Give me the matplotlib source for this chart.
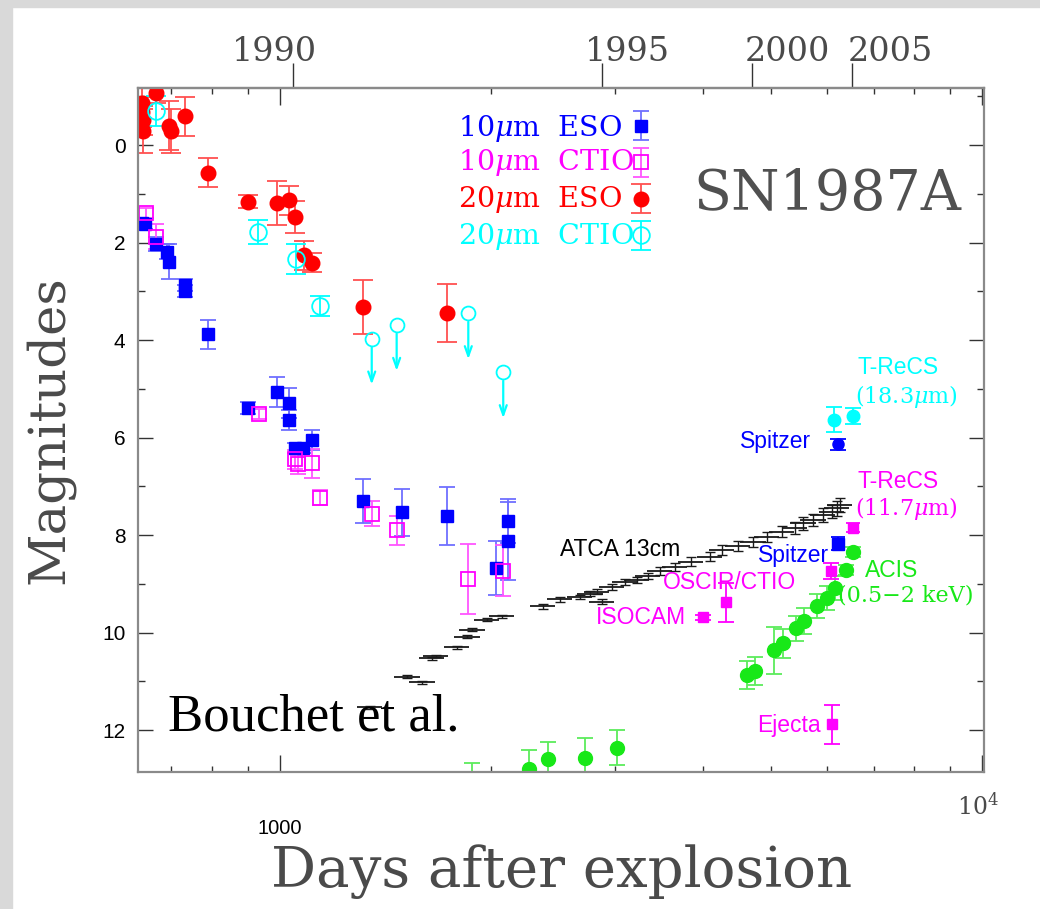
import datetime as dt
import numpy as np
import matplotlib
matplotlib.use("Agg")
import matplotlib.pyplot as plt
from matplotlib.patches import Rectangle
from matplotlib.ticker import FixedLocator, NullFormatter, NullLocator

# ---------------- data (days after explosion, magnitudes) ----------------
eso10_day = [636, 642, 666, 690, 696, 732, 732, 791, 901, 989, 1030, 1030, 1050, 1079, 1110,
             1314, 1493, 1730, 2114, 2114, 2028]
eso10_mag = [1.59, 1.62, 2.03, 2.19, 2.39, 2.87, 3.0, 3.88, 5.40, 5.06, 5.29, 5.64, 6.22, 6.22, 6.05,
             7.30, 7.53, 7.61, 7.71, 8.12, 8.68]
eso10_err = [0.1, 0.1, 0.15, 0.15, 0.35, 0.12, 0.12, 0.3, 0.12, 0.31, 0.3, 0.2, 0.1, 0.1, 0.2,
             0.46, 0.48, 0.6, 0.45, 0.8, 0.55]

ctio10_day = [645, 666, 934, 1050, 1060, 1112, 1140, 1351, 1466, 1854, 2079]
ctio10_mag = [1.40, 1.88, 5.52, 6.45, 6.55, 6.53, 7.23, 7.56, 7.90, 8.90, 8.73]
ctio10_err = [0.1, 0.26, 0.1, 0.2, 0.2, 0.3, 0.15, 0.25, 0.3, 0.72, 0.52]

eso20_day = [636, 636, 638, 639, 667, 696, 700, 732, 790, 900, 989, 1030, 1050, 1082, 1110, 1313, 1729]
eso20_mag = [-0.86, -0.68, -0.51, -0.29, -1.07, -0.40, -0.28, -0.59, 0.57, 1.16, 1.19, 1.13, 1.47,
             2.26, 2.41, 3.32, 3.45]
eso20_err = [0.3, 0.3, 0.3, 0.45, 0.2, 0.5, 0.45, 0.4, 0.3, 0.13, 0.45, 0.3, 0.33, 0.3, 0.2, 0.55, 0.6]

ctio20_day = [667, 931, 1053, 1140]
ctio20_mag = [-0.7, 1.78, 2.34, 3.30]
ctio20_err = [0.3, 0.25, 0.3, 0.2]
ctio20_lim_day = [1351, 1466, 1854, 2079]
ctio20_lim_mag = [3.97, 3.69, 3.45, 4.66]

trecs18_day = [6150, 6534]
trecs18_mag = [5.63, 5.56]
trecs18_err = [0.25, 0.17]

spitzer24_day = [6220]
spitzer24_mag = [6.14]
spitzer24_err = [0.12]

trecs11_day = [6534]
trecs11_mag = [7.85]
trecs11_err = [0.09]

spitzer8_day = [6220]
spitzer8_mag = [8.18]
spitzer8_err = [0.13]

oscir_day = [4313, 6084]
oscir_mag = [9.38, 8.74]
oscir_err = [0.4, 0.16]

isocam_day = [4004]
isocam_mag = [9.69]
isocam_err = [0.06]

ejecta_day = [6098]
ejecta_mag = [11.88]
ejecta_err = [0.4]

acis_day = [1874, 2262, 2409, 2717, 3021, 4625, 4744, 5053, 5194, 5425, 5576, 5807, 5999, 6166,
            6393, 6546]
acis_mag = [13.07, 12.79, 12.60, 12.57, 12.36, 10.87, 10.79, 10.36, 10.22, 9.91, 9.76, 9.45, 9.29,
            9.09, 8.72, 8.34]
acis_err = [0.4, 0.38, 0.35, 0.4, 0.36, 0.28, 0.28, 0.48, 0.3, 0.26, 0.26, 0.25, 0.25, 0.25, 0.1, 0.1]

atca_day = [1343, 1519, 1595, 1645, 1667, 1786, 1849, 1879, 1970, 2070, 2367, 2503, 2673, 2763,
            2826, 2872, 2968, 3097, 3222, 3340, 3474, 3649, 3846, 4093, 4257, 4486, 4713, 4934,
            5181, 5408, 5553, 5738, 5928, 6104, 6205, 6266]
atca_mag = [11.53, 10.91, 11.02, 10.53, 10.48, 10.30, 10.09, 9.94, 9.74, 9.67, 9.46, 9.32, 9.27,
            9.20, 9.16, 9.37, 9.06, 8.97, 8.92, 8.84, 8.73, 8.65, 8.55, 8.44, 8.31, 8.23, 8.14,
            8.04, 7.93, 7.86, 7.76, 7.69, 7.59, 7.52, 7.45, 7.38]
atca_err = [0.03, 0.03, 0.03, 0.03, 0.03, 0.03, 0.03, 0.03, 0.03, 0.03, 0.05, 0.05, 0.05, 0.05,
            0.05, 0.05, 0.06, 0.06, 0.07, 0.07, 0.08, 0.08, 0.09, 0.09, 0.1, 0.1, 0.11, 0.11,
            0.12, 0.12, 0.13, 0.13, 0.14, 0.14, 0.15, 0.15]

year_ticks = [1990, 1995, 2000, 2005]
year_label_day = [981, 3128, 5268, 7383]
explosion = dt.date(1987, 2, 23)

legend_labels = [r"10$\mu$m  ESO", r"10$\mu$m  CTIO", r"20$\mu$m  ESO", r"20$\mu$m  CTIO"]

# ---------------- style ----------------
BLUE, MAG, RED, CYAN, GREEN = "#0000ff", "#ff00ff", "#ff0000", "#00ffff", "#18e818"
TXT = "#4a4a4a"
plt.rcParams["font.family"] = ["DejaVu Serif"]
plt.rcParams["mathtext.fontset"] = "dejavuserif"
SANS = ["Liberation Sans", "DejaVu Sans"]

fig = plt.figure(figsize=(10.4, 9.09), dpi=100)
fig.patches.append(Rectangle((0, 0), 12 / 1040, 1, transform=fig.transFigure,
                             color="#d9d9d9", zorder=0))
fig.patches.append(Rectangle((0, 1 - 7 / 909), 1, 7 / 909, transform=fig.transFigure,
                             color="#d9d9d9", zorder=0))

ax = fig.add_axes([138 / 1040, 1 - 772 / 909, 846 / 1040, 684 / 909])
ax.set_xscale("log")
ax.set_xlim(628, 10050)
ax.set_ylim(12.86, -1.17)

ekw = dict(elinewidth=1.3, capthick=1.3, linestyle="none")

eb_eso10 = ax.errorbar(eso10_day, eso10_mag, yerr=eso10_err, fmt="s", ms=8.5, color=BLUE,
                       ecolor="#6f6fff", capsize=6, **ekw)
eb_ctio10 = ax.errorbar(ctio10_day, ctio10_mag, yerr=ctio10_err, fmt="s", ms=10, mfc="none",
                        mec=MAG, mew=1.3, ecolor="#ff55ff", capsize=6, **ekw)
eb_eso20 = ax.errorbar(eso20_day, eso20_mag, yerr=eso20_err, fmt="o", ms=10.5, color=RED,
                       ecolor="#ff5050", capsize=7, **ekw)
eb_ctio20 = ax.errorbar(ctio20_day, ctio20_mag, yerr=ctio20_err, fmt="o", ms=12, mfc="none",
                        mec=CYAN, mew=1.3, ecolor=CYAN, capsize=7, **ekw)

# upper limits
ARROW = 1.0
ax.plot(ctio20_lim_day, ctio20_lim_mag, "o", ms=10, mfc="none", mec=CYAN, mew=1.3)
for d, m in zip(ctio20_lim_day, ctio20_lim_mag):
    ax.annotate("", xy=(d, m + ARROW), xytext=(d, m + 0.12),
                arrowprops=dict(arrowstyle="->,head_length=0.7,head_width=0.25",
                                color=CYAN, lw=1.6))

# ATCA radio
atca_xerr = np.array(atca_day) * 0.042
ax.errorbar(atca_day, atca_mag, xerr=atca_xerr, fmt="none", ecolor="#1a1a1a",
            elinewidth=1.3, capsize=0)
ax.errorbar(atca_day, atca_mag, yerr=atca_err, fmt="none", ecolor="#1a1a1a",
            elinewidth=1.0, capsize=3.5)

# ACIS
ax.errorbar(acis_day, acis_mag, yerr=acis_err, fmt="o", ms=10, color=GREEN,
            ecolor="#5cec5c", capsize=6, **ekw)

# late-time IR
ax.errorbar(trecs18_day, trecs18_mag, yerr=trecs18_err, fmt="o", ms=9, color=CYAN,
            ecolor=CYAN, capsize=6, **ekw)
ax.errorbar(spitzer24_day, spitzer24_mag, yerr=spitzer24_err, fmt="o", ms=8, color=BLUE,
            ecolor=BLUE, capsize=6, **ekw)
ax.errorbar(trecs11_day, trecs11_mag, yerr=trecs11_err, fmt="s", ms=7, color=MAG,
            ecolor=MAG, capsize=5, **ekw)
ax.errorbar(spitzer8_day, spitzer8_mag, yerr=spitzer8_err, fmt="s", ms=9, color=BLUE,
            ecolor=BLUE, capsize=5, **ekw)
ax.errorbar(oscir_day, oscir_mag, yerr=oscir_err, fmt="s", ms=7, color=MAG,
            ecolor=MAG, capsize=6, **ekw)
ax.errorbar(isocam_day, isocam_mag, yerr=isocam_err, fmt="s", ms=7, color=MAG,
            ecolor=MAG, capsize=6, **ekw)
ax.errorbar(ejecta_day, ejecta_mag, yerr=ejecta_err, fmt="s", ms=7, color=MAG,
            ecolor=MAG, capsize=6, **ekw)

# ---------------- axes / ticks ----------------
for s in ax.spines.values():
    s.set_color("#8a8a8a")
    s.set_linewidth(1.6)

ax.xaxis.set_major_locator(FixedLocator([1000, 10000]))
ax.xaxis.set_minor_locator(FixedLocator([700, 800, 900] + list(range(2000, 10000, 1000))))
ax.xaxis.set_major_formatter(NullFormatter())
ax.xaxis.set_minor_formatter(NullFormatter())
ax.yaxis.set_major_locator(FixedLocator(list(range(0, 13, 2))))
ax.yaxis.set_minor_locator(FixedLocator(list(range(-1, 13, 1))))
ax.tick_params(which="both", direction="in", top=True, right=True, color="#333333", width=1.0)
ax.tick_params(axis="x", which="major", length=12)
ax.tick_params(axis="x", which="minor", length=4.5)
ax.tick_params(axis="y", which="major", length=11, labelsize=15, pad=9)
ax.tick_params(axis="y", which="minor", length=5)
for t in ax.get_yticklabels():
    t.set_family(SANS)

sec = ax.secondary_xaxis("top")
sec.xaxis.set_major_locator(FixedLocator(
    [(dt.date(y, 1, 1) - explosion).days for y in year_ticks]))
sec.xaxis.set_minor_locator(NullLocator())
sec.xaxis.set_major_formatter(NullFormatter())
sec.tick_params(direction="out", length=18, width=1.0, color="#333333")
sec.spines["top"].set_color("#8a8a8a")
sec.spines["top"].set_linewidth(1.6)

for yr, d in zip(year_ticks, year_label_day):
    ax.text(d, 1.0526, str(yr), transform=ax.get_xaxis_transform(), ha="center", va="center",
            fontsize=24, color=TXT)

ax.text(1000, -0.082, "1000", transform=ax.get_xaxis_transform(), ha="center", va="center",
        fontsize=14.5, family=SANS)
ax.text(9850, -0.05, r"$\mathregular{10^4}$", transform=ax.get_xaxis_transform(), ha="center",
        va="center", fontsize=17, color=TXT)

fig.text(50 / 1040, 1 - 430 / 909, "Magnitudes", rotation=90, ha="center", va="center",
         fontsize=37, color=TXT)
fig.text(562 / 1040, 1 - 872 / 909, "Days after explosion", ha="center", va="center",
         fontsize=40.5, color=TXT)

ax.text(0.656, 0.8436, "SN1987A", transform=ax.transAxes, ha="left", va="center",
        fontsize=40, color="#505050")
ax.text(0.0355, 0.079, "Bouchet et al.", transform=ax.transAxes, ha="left", va="center",
        fontsize=38, family=["Liberation Serif"], color="black")

# ---------------- annotations ----------------
ann = [
    ("T-ReCS", 6647, 4.57, CYAN, True),
    (r"(18.3$\mu$m)", 6582, 5.15, CYAN, False),
    ("Spitzer", 4516, 6.09, BLUE, True),
    ("T-ReCS", 6647, 6.91, MAG, True),
    (r"(11.7$\mu$m)", 6582, 7.45, MAG, False),
    ("ATCA 13cm", 2503, 8.29, "black", True),
    ("Spitzer", 4790, 8.41, BLUE, True),
    ("OSCIR/CTIO", 3509, 8.98, MAG, True),
    ("ACIS", 6801, 8.72, GREEN, True),
    ("(0.5\u22122 keV)", 6226, 9.23, GREEN, False),
    ("ISOCAM", 2818, 9.70, MAG, True),
    ("Ejecta", 4775, 11.90, MAG, True),
]
for txt, d, m, c, sans in ann:
    if sans:
        ax.text(d, m, txt, color=c, ha="left", va="center", fontsize=16.5, family=SANS)
    else:
        ax.text(d, m, txt, color=c, ha="left", va="center", fontsize=16)

# ---------------- legend (keys on the right, labels left-aligned) ----------------
leg = ax.legend([eb_eso10, eb_ctio10, eb_eso20, eb_ctio20], [" "] * 4,
                loc="upper left", bbox_to_anchor=(0.579, 0.962), frameon=False,
                fontsize=21, handlelength=0.9, handletextpad=0.0,
                labelspacing=0.29, borderpad=0, borderaxespad=0)
leg_y = [0.9415, 0.8904, 0.8377, 0.7822]
for lab, c, yy in zip(legend_labels, [BLUE, MAG, RED, CYAN], leg_y):
    ax.text(0.378, yy, lab, transform=ax.transAxes, ha="left", va="center",
            fontsize=20.5, color=c)

fig.savefig("out.png", dpi=100)
